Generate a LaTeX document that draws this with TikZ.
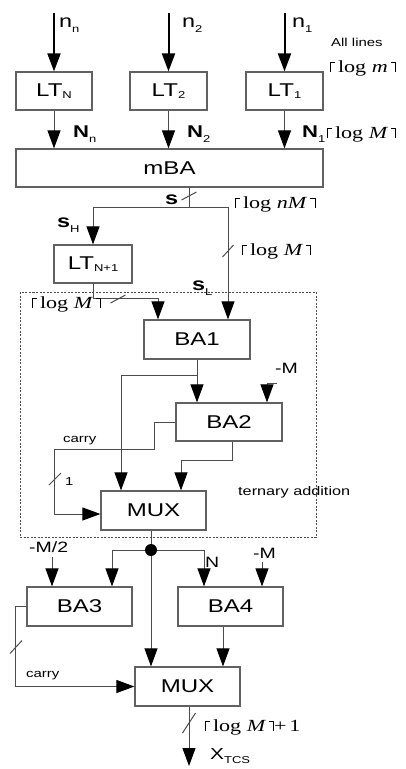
\documentclass[tikz,border=0pt]{standalone}
\usepackage{fontspec}
\setmainfont{Liberation Sans}[FakeStretch=1.3]
\newfontfamily\tmsfont{Liberation Serif}[FakeStretch=1.3]
\usetikzlibrary{arrows.meta,calc}
\definecolor{BoxClr}{rgb}{0.38,0.38,0.38}
\definecolor{WireClr}{rgb}{0.3,0.3,0.3}
\newcommand\lsub[2][5pt]{\raisebox{-#1}{\fontsize{10}{10}\selectfont\mdseries #2}}
\newcommand\lbr{\rule{0.6pt}{10pt}\kern-0.6pt\rule[9.4pt]{5pt}{0.6pt}}
\newcommand\rbr{\rule[9.4pt]{5pt}{0.6pt}\kern-0.6pt\rule{0.6pt}{10pt}}
\newcommand\ceillog[1]{{\tmsfont\fontsize{17}{17}\selectfont\lbr\,log #1\,\rbr}}
\newcommand\busmark[3]{\draw[wire] (#1) ++(-#2/2,#3/2) -- ++(#2,-#3);}

\begin{document}
\begin{tikzpicture}[x=1pt,y=-1pt,
  blk/.style={draw=BoxClr,line width=1.2pt,minimum height=38pt,inner sep=0pt,
    font=\fontsize{18.5}{18.5}\selectfont},
  wire/.style={draw=WireClr,line width=1pt},
  arr/.style={wire,-{Triangle[width=13pt,length=18pt,color=black]}},
  inarr/.style={draw=black,line width=2pt,-{Triangle[width=13pt,length=18pt]}},
  lbl/.style={inner sep=0pt,anchor=base west,font=\fontsize{16}{16}\selectfont},
  bld/.style={lbl,font=\fontsize{17}{17}\selectfont\bfseries},
  note/.style={inner sep=0pt,anchor=base west,font=\fontsize{11.5}{11.5}\selectfont},
  dot/.style={circle,fill=black,inner sep=0pt,minimum size=12pt},
  dotbox/.style={draw=WireClr,line width=0.8pt,dash pattern=on 2pt off 1.5pt}]
\useasboundingbox (0,0) rectangle (406,769);

% blocks
\node[blk,minimum width=76pt] (ltN) at (54,91) {LT\lsub[2pt]{N}};
\node[blk,minimum width=77pt] (lt2) at (168.5,91) {LT\lsub[2pt]{2}};
\node[blk,minimum width=77pt] (lt1) at (284.5,91) {LT\lsub[2pt]{1}};
\node[blk,minimum width=307pt] (mba) at (169.5,168) {mBA};
\node[blk,minimum width=78pt] (ltN1) at (93,264) {LT\lsub[2pt]{N+1}};
\node[blk,minimum width=106pt,minimum height=39pt] (ba1) at (197,339.5) {BA1};
\node[blk,minimum width=106pt] (ba2) at (229,422) {BA2};
\node[blk,minimum width=105pt,minimum height=39pt] (mux1) at (153.5,510.5) {MUX};
\node[blk,minimum width=105pt,minimum height=39pt] (ba3) at (79.5,606.5) {BA3};
\node[blk,minimum width=105pt,minimum height=39pt] (ba4) at (230.5,606.5) {BA4};
\node[blk,minimum width=105pt,minimum height=39pt] (mux2) at (187.5,686.5) {MUX};
\node[dot] (jn) at (151,550) {};

\draw[dotbox] (20,292) rectangle (316,537);

\coordinate (inN) at (54,13);
\coordinate (in2) at (168.5,13);
\coordinate (in1) at (284.5,13);
\coordinate (sj) at (189,207);
\coordinate (br) at (197,375);
\coordinate (mM) at (277,383);
\coordinate (mh) at (52,557);
\coordinate (mm) at (262,562);
\coordinate (xo) at (189,766);

% inputs
\draw[inarr] (inN) -- (ltN.north);
\draw[inarr] (in2) -- (lt2.north);
\draw[inarr] (in1) -- (lt1.north);
\draw[arr] (ltN.south) -- (ltN.south |- mba.north);
\draw[arr] (lt2.south) -- (lt2.south |- mba.north);
\draw[arr] (lt1.south) -- (lt1.south |- mba.north);

% sum split
\draw[wire] (mba.south -| sj) -- (sj);
\draw[arr] (sj) -| (ltN1.north);
\draw[arr] (sj) -| ([xshift=31pt]ba1.north);
\draw[arr] (ltN1.south) -- ++(0,15) -| ([xshift=-39pt]ba1.north);

% ternary addition
\draw[arr] (ba1.south) -- (ba1.south |- ba2.north);
\draw[arr] (br) -| ([xshift=-32.5pt]mux1.north);
\draw[arr] (mM) -| ([xshift=38pt]ba2.north);
\draw[arr] (ba2.west) -- ++(-21,0) |- (54,449) |- ([yshift=-3.5pt]mux1.west);
\draw[arr] ([xshift=3pt]ba2.south) -- ++(0,19) -| ([xshift=27.5pt]mux1.north);

% correction
\draw[wire] ([xshift=-2.5pt]mux1.south) -- (jn);
\draw[arr] (jn) -| ([xshift=32.5pt]ba3.north);
\draw[arr] (jn) -| ([xshift=-26.5pt]ba4.north);
\draw[arr] (jn) -- (jn |- mux2.north);
\draw[arr] (mh) -- (mh |- ba3.north);
\draw[arr] (mm) -- (mm |- ba4.north);
\draw[arr] ([xshift=-7.5pt]ba4.south) -- ([xshift=-7.5pt]ba4.south |- mux2.north);
\draw[arr] (ba3.west) -- ++(-11,0) |- (mux2.west);
\draw[arr] (mux2.south -| xo) -- (xo);

\busmark{189,196}{15}{8}
\busmark{228,251}{11}{12}
\busmark{118,299}{15}{8}
\busmark{55,479}{12}{12}
\busmark{16,647}{12}{13}
\busmark{189,723}{13}{20}

% labels
\node[lbl,font=\fontsize{18}{18}\selectfont] (lnn) at (59,27) {n\lsub{n}};
\node[lbl,font=\fontsize{18}{18}\selectfont] (ln2) at (182,27) {n\lsub{2}};
\node[lbl,font=\fontsize{18}{18}\selectfont] (ln1) at (292,27) {n\lsub{1}};
\node[note] (lall) at (331,46) {All lines};
\node[inner sep=0pt,anchor=base west] (lm) at (330,72) {\ceillog{\textit{m}}};
\node[bld] (lNn) at (73,137) {N\lsub{n}};
\node[bld] (lN2) at (187,137) {N\lsub{2}};
\node[bld] (lN1) at (302,137) {N\lsub{1}};
\node[inner sep=0pt,anchor=base west] (lM1) at (327,138) {\ceillog{\textit{M}}};
\node[lbl,font=\fontsize{18}{18}\selectfont\bfseries] (ls) at (165,204) {s};
\node[inner sep=0pt,anchor=base west] (lnM) at (235,208) {\ceillog{\textit{nM}}};
\node[lbl,font=\fontsize{18}{18}\selectfont\bfseries] (lsH) at (57,227) {s\lsub{H}};
\node[inner sep=0pt,anchor=base west] (lM2) at (242,255) {\ceillog{\textit{M}}};
\node[lbl,font=\fontsize{18}{18}\selectfont\bfseries] (lsL) at (192,290) {s\lsub{L}};
\node[inner sep=0pt,anchor=base west] (lM3) at (32,308) {\ceillog{\textit{M}}};
\node[lbl,font=\fontsize{15}{15}\selectfont] (lmM) at (275,373) {-M};
\node[note] (lc1) at (63,442) {carry};
\node[note] (lone) at (65,485) {1};
\node[note,font=\fontsize{12.5}{12.5}\selectfont] (lter) at (238,495) {ternary addition};
\node[lbl,font=\fontsize{15}{15}\selectfont] (lmh) at (29,552) {-M/2};
\node[lbl,font=\fontsize{15}{15}\selectfont] (lN) at (205,567) {N};
\node[lbl,font=\fontsize{15}{15}\selectfont] (lmM2) at (253,558) {-M};
\node[note] (lc2) at (26,677) {carry};
\node[inner sep=0pt,anchor=base west] (lout) at (205,731)
  {\ceillog{\textit{M}}{\tmsfont\fontsize{17}{17}\selectfont +\,1}};
\node[lbl] (lx) at (210,759) {X\lsub[4pt]{TCS}};
\end{tikzpicture}
\end{document}
